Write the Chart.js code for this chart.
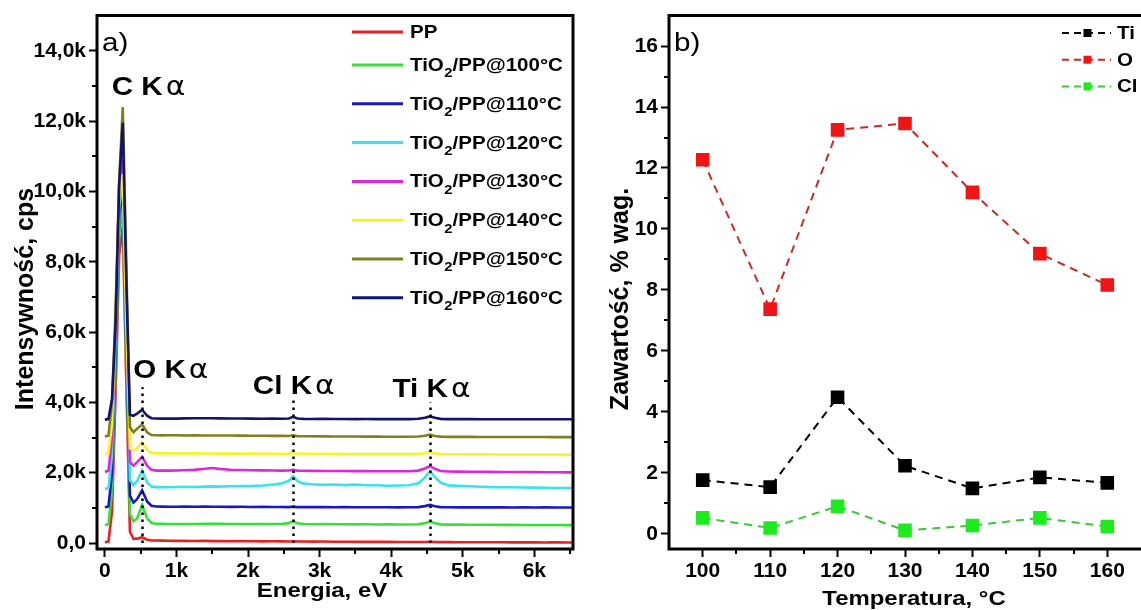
<!DOCTYPE html>
<html>
<head>
<meta charset="utf-8">
<script src="https://cdn.jsdelivr.net/npm/chart.js@4.4.1/dist/chart.umd.min.js"></script>
<style>
  html, body { margin: 0; padding: 0; background: #fff; overflow: hidden; width: 1141px; height: 610px; }
  #panelA { position: absolute; left: 0; top: 0; }
  #panelB { position: absolute; left: 580px; top: 0; }
</style>
</head>
<body>
<canvas id="panelA" width="585" height="610"></canvas>
<canvas id="panelB" width="580" height="610"></canvas>
<script>
// ---------- a) EDS spectra, stacked ----------
const energy = [0, 50, 100, 150, 200, 250, 300, 350, 400, 450,
  520, 590, 650, 720, 800, 900, 1000, 1100, 1250, 1400,
  1500, 1600, 1750, 1900, 2050, 2200, 2350, 2480, 2570, 2630,
  2690, 2780, 2900, 3050, 3200, 3350, 3500, 3650, 3800, 3950,
  4100, 4250, 4380, 4470, 4540, 4610, 4690, 4800, 4950, 5100,
  5250, 5400, 5550, 5700, 5850, 6000, 6150, 6300, 6450, 6540];

const sampleLabels = ['PP', 'TiO₂/PP@100°C', 'TiO₂/PP@110°C', 'TiO₂/PP@120°C',
  'TiO₂/PP@130°C', 'TiO₂/PP@140°C', 'TiO₂/PP@150°C', 'TiO₂/PP@160°C'];

const countsPP = [20, 40, 900, 4300, 8200, 9000, 4500, 320, 120, 125,
  165, 95, 75, 70, 68, 66, 60, 62, 58, 60,
  55, 57, 52, 55, 50, 48, 50, 46, 45, 48,
  44, 42, 40, 42, 38, 36, 38, 34, 32, 33,
  30, 28, 30, 28, 32, 27, 26, 25, 24, 22,
  24, 20, 21, 18, 19, 17, 16, 18, 15, 15];
const counts100 = [510, 530, 1500, 4900, 8800, 9600, 5000, 820, 620, 700,
  1080, 700, 570, 550, 545, 540, 542, 538, 540, 545,
  548, 545, 543, 540, 542, 538, 540, 545, 565, 620,
  560, 540, 535, 538, 533, 535, 530, 532, 528, 530,
  526, 528, 535, 565, 610, 560, 530, 524, 522, 520,
  521, 518, 516, 517, 514, 513, 512, 511, 510, 510];
const counts110 = [1020, 1040, 2000, 5400, 9300, 10100, 5500, 1350, 1150, 1250,
  1500, 1180, 1060, 1040, 1035, 1032, 1030, 1034, 1030, 1036,
  1032, 1030, 1028, 1030, 1026, 1028, 1024, 1025, 1022, 1030,
  1020, 1022, 1020, 1021, 1018, 1020, 1017, 1018, 1016, 1017,
  1015, 1016, 1022, 1050, 1085, 1045, 1020, 1016, 1015, 1014,
  1015, 1013, 1014, 1012, 1013, 1012, 1013, 1012, 1012, 1012];
const counts120 = [1540, 1560, 2500, 5800, 9600, 10300, 5900, 1800, 1650, 1760,
  2060, 1720, 1610, 1590, 1595, 1588, 1592, 1600, 1595, 1605,
  1610, 1603, 1615, 1620, 1618, 1635, 1660, 1700, 1770, 1900,
  1760, 1690, 1670, 1655, 1665, 1648, 1660, 1642, 1645, 1630,
  1635, 1645, 1700, 1860, 2040, 1880, 1720, 1640, 1625, 1615,
  1600, 1590, 1585, 1588, 1578, 1575, 1572, 1566, 1565, 1562];
const counts130 = [2030, 2050, 3000, 6400, 10200, 10900, 6400, 2300, 2200, 2300,
  2450, 2200, 2080, 2060, 2058, 2060, 2062, 2068, 2080, 2110,
  2135, 2110, 2085, 2075, 2070, 2065, 2062, 2060, 2062, 2080,
  2060, 2055, 2052, 2050, 2048, 2050, 2045, 2046, 2042, 2043,
  2040, 2042, 2060, 2120, 2185, 2110, 2050, 2035, 2030, 2028,
  2026, 2024, 2022, 2020, 2018, 2016, 2014, 2012, 2010, 2010];
const counts140 = [2520, 2540, 3400, 6500, 9900, 10500, 6300, 2700, 2620, 2700,
  2860, 2650, 2560, 2550, 2552, 2548, 2550, 2547, 2549, 2545,
  2546, 2543, 2545, 2540, 2542, 2538, 2540, 2537, 2540, 2560,
  2538, 2535, 2536, 2533, 2535, 2531, 2532, 2530, 2531, 2528,
  2529, 2527, 2535, 2555, 2585, 2550, 2528, 2524, 2523, 2522,
  2521, 2520, 2519, 2518, 2518, 2517, 2516, 2516, 2515, 2515];
const counts150 = [3030, 3050, 4000, 6700, 10300, 12400, 7900, 3300, 3150, 3250,
  3370, 3150, 3070, 3065, 3062, 3066, 3063, 3060, 3062, 3058,
  3060, 3056, 3057, 3054, 3052, 3050, 3048, 3046, 3045, 3065,
  3040, 3036, 3035, 3033, 3030, 3031, 3028, 3027, 3026, 3024,
  3023, 3022, 3030, 3050, 3085, 3045, 3025, 3020, 3019, 3018,
  3017, 3016, 3016, 3015, 3015, 3014, 3014, 3013, 3013, 3013];
const counts160 = [3510, 3525, 4100, 6200, 10200, 11950, 7400, 3650, 3620, 3680,
  3790, 3620, 3550, 3540, 3538, 3542, 3537, 3545, 3548, 3550,
  3547, 3545, 3542, 3540, 3538, 3535, 3537, 3533, 3540, 3590,
  3540, 3530, 3528, 3530, 3526, 3527, 3525, 3526, 3524, 3525,
  3523, 3524, 3535, 3565, 3600, 3560, 3530, 3525, 3524, 3523,
  3522, 3521, 3521, 3520, 3520, 3519, 3519, 3518, 3518, 3518];

// Kα lines marked on the spectra (eV)
const peakNames = ['O', 'Cl', 'Ti'];
const peakEnergies = [520, 2630, 4540];

const energyTicks = [0, 1000, 2000, 3000, 4000, 5000, 6000];
const energyTickLabels = ['0', '1k', '2k', '3k', '4k', '5k', '6k'];
const energyMinorTicks = [500, 1500, 2500, 3500, 4500, 5500, 6500];
const intensityTicks = [0, 2000, 4000, 6000, 8000, 10000, 12000, 14000];
const intensityTickLabels = ['0,0', '2,0k', '4,0k', '6,0k', '8,0k', '10,0k', '12,0k', '14,0k'];
const intensityMinorTicks = [1000, 3000, 5000, 7000, 9000, 11000, 13000];

// ---------- b) element content vs. temperature ----------
const temperatures = [100, 110, 120, 130, 140, 150, 160];
const contentTi = [1.76, 1.53, 4.48, 2.23, 1.49, 1.85, 1.67];
const contentO = [12.27, 7.37, 13.25, 13.46, 11.2, 9.19, 8.16];
const contentCl = [0.52, 0.19, 0.9, 0.11, 0.27, 0.52, 0.24];
const elementLabels = ['Ti', 'O', 'Cl'];

const temperatureTicks = [100, 110, 120, 130, 140, 150, 160];
const temperatureMinorTicks = [105, 115, 125, 135, 145, 155];
const contentTicks = [0, 2, 4, 6, 8, 10, 12, 14, 16];
const contentMinorTicks = [1, 3, 5, 7, 9, 11, 13, 15];

// ---------- styling ----------
const FONT = '"Liberation Sans", Arial, Helvetica, sans-serif';
const SX = 1.14;                       // horizontal stretch of the annotation text
const TICK_FONT = { family: FONT, size: 21, weight: 'bold' };
const sampleColors = ['#e82020', '#3ade3a', '#1818c8', '#3ae2ea', '#dc28dc', '#f4f428', '#80801e', '#121270'];

Chart.defaults.font.family = FONT;
Chart.defaults.color = '#000';

function textW(ctx, str, x, y, font, align) {
  ctx.save();
  ctx.font = font;
  const w = ctx.measureText(str).width * SX;
  let x0 = x;
  if (align === 'center') x0 = x - w / 2;
  else if (align === 'right') x0 = x - w;
  ctx.translate(x0, y);
  ctx.scale(SX, 1);
  ctx.textAlign = 'left';
  ctx.textBaseline = 'alphabetic';
  ctx.fillStyle = '#000';
  ctx.fillText(str, 0, 0);
  ctx.restore();
  return w;
}

// label text with chemical subscripts (₂)
function richLabel(ctx, str, x, y, size) {
  const parts = str.split('₂');
  let cx = x;
  parts.forEach((p, k) => {
    if (k > 0) cx += textW(ctx, '2', cx + 0.5, y + size * 0.36, `bold ${Math.round(size * 0.72)}px ${FONT}`) + 0.5;
    cx += textW(ctx, p, cx, y, `bold ${size}px ${FONT}`);
  });
}

function rotatedTitle(ctx, str, cx, cy, size) {
  ctx.save();
  ctx.translate(cx, cy);
  ctx.rotate(-Math.PI / 2);
  ctx.font = `bold ${size}px ${FONT}`;
  ctx.textAlign = 'center';
  ctx.textBaseline = 'middle';
  ctx.fillStyle = '#000';
  ctx.fillText(str, 0, 0);
  ctx.restore();
}

// box frame, minor ticks and axis titles shared by both panels
const framePlugin = {
  id: 'frame',
  afterDatasetsDraw(chart, args, o) {
    const { ctx, chartArea: a, scales } = chart;
    ctx.save();
    ctx.strokeStyle = '#000';
    ctx.lineWidth = 3;
    ctx.lineCap = 'square';
    ctx.beginPath();
    if (o.right) {
      ctx.rect(a.left, a.top, a.right - a.left, a.bottom - a.top);
    } else {
      ctx.moveTo(a.right + 2, a.top); ctx.lineTo(a.left, a.top);
      ctx.lineTo(a.left, a.bottom); ctx.lineTo(a.right + 2, a.bottom);
    }
    ctx.stroke();
    ctx.lineWidth = 2;
    ctx.lineCap = 'butt';
    ctx.beginPath();
    o.xMinor.forEach(v => {
      const px = Math.round(scales.x.getPixelForValue(v));
      ctx.moveTo(px, a.bottom); ctx.lineTo(px, a.bottom + 5);
    });
    o.yMinor.forEach(v => {
      const py = Math.round(scales.y.getPixelForValue(v));
      ctx.moveTo(a.left, py); ctx.lineTo(a.left - 5, py);
    });
    ctx.stroke();
    ctx.restore();
    rotatedTitle(ctx, o.yTitle, o.yTitleX, o.yTitleY, 25);
    textW(ctx, o.xTitle, o.xTitleX, o.xTitleY, `bold 21px ${FONT}`, 'center');
    textW(ctx, o.tag, a.left + 5, a.top + 35, `26px ${FONT}`, 'left');
  }
};

// a) legend and Kα markers
const spectraPlugin = {
  id: 'spectraNotes',
  afterDraw(chart, args, o) {
    const { ctx, scales } = chart;
    const y0 = scales.y.getPixelForValue(0);
    ctx.save();
    ctx.strokeStyle = '#000';
    ctx.lineWidth = 2.5;
    ctx.setLineDash([2.5, 4.5]);
    peakEnergies.forEach((e, i) => {
      const px = Math.round(scales.x.getPixelForValue(e)) + 0.5;
      ctx.beginPath();
      ctx.moveTo(px, y0);
      ctx.lineTo(px, scales.y.getPixelForValue(o.lineTops[i]));
      ctx.stroke();
    });
    ctx.restore();

    o.notes.forEach(n => {
      const x = scales.x.getPixelForValue(n.energy);
      const y = scales.y.getPixelForValue(n.counts);
      const w = textW(ctx, n.name + ' K', x, y, `bold 26px ${FONT}`, 'left');
      textW(ctx, 'α', x + w + 3, y, `26px "DejaVu Sans", ${FONT}`, 'left');
    });

    let y = o.legendTop;
    chart.data.datasets.forEach(ds => {
      ctx.save();
      ctx.strokeStyle = ds.borderColor;
      ctx.lineWidth = 3;
      ctx.beginPath();
      ctx.moveTo(o.legendX0, y); ctx.lineTo(o.legendX1, y);
      ctx.stroke();
      ctx.restore();
      richLabel(ctx, ds.label, o.legendTextX, y + 6, 18);
      y += ds.label.includes('₂') ? o.rowSub : o.row;
    });
  }
};

// b) legend
const contentLegend = {
  id: 'contentLegend',
  afterDraw(chart, args, o) {
    const ctx = chart.ctx;
    chart.data.datasets.forEach((ds, i) => {
      const y = o.top + i * o.row;
      ctx.save();
      ctx.strokeStyle = ds.borderColor;
      ctx.lineWidth = 2;
      ctx.setLineDash([7, 5]);
      ctx.beginPath();
      ctx.moveTo(o.x0, y); ctx.lineTo(o.x1, y);
      ctx.stroke();
      ctx.fillStyle = ds.pointBackgroundColor;
      const mx = (o.x0 + o.x1) / 2 + 1;
      ctx.fillRect(mx - 4, y - 4, 8, 8);
      ctx.restore();
      textW(ctx, ds.label, o.textX, y + 6, `bold 18px ${FONT}`, 'left');
    });
  }
};

function axis(min, max, ticks, labels, fixed, isX) {
  return {
    type: 'linear', min, max,
    afterBuildTicks: s => { s.ticks = ticks.map(v => ({ value: v })); },
    afterFit: s => { if (isX) s.height = fixed; else s.width = fixed; },
    ticks: {
      autoSkip: false, maxRotation: 0, font: TICK_FONT, color: '#000',
      padding: isX ? 2 : 3,
      callback: v => labels[ticks.indexOf(v)]
    },
    grid: { display: true, drawOnChartArea: false, drawTicks: true, tickLength: 8, tickWidth: 2, tickColor: '#000' },
    border: { display: false }
  };
}

const spectraSeries = [countsPP, counts100, counts110, counts120, counts130, counts140, counts150, counts160];

new Chart(document.getElementById('panelA'), {
  type: 'line',
  data: {
    datasets: spectraSeries.map((s, i) => ({
      label: sampleLabels[i],
      data: energy.map((e, k) => ({ x: e, y: s[k] })),
      borderColor: sampleColors[i],
      borderWidth: 2.6,
      pointRadius: 0,
      tension: 0,
      order: spectraSeries.length - i
    }))
  },
  options: {
    responsive: false, animation: false, events: [],
    layout: { padding: { left: 0, top: 14, right: 12, bottom: 0 } },
    scales: {
      x: axis(-110, 6540, energyTicks, energyTickLabels, 61, true),
      y: axis(-170, 15000, intensityTicks, intensityTickLabels, 97, false)
    },
    plugins: {
      legend: { display: false }, tooltip: { enabled: false },
      frame: {
        right: true, xMinor: energyMinorTicks, yMinor: intensityMinorTicks,
        yTitle: 'Intensywność, cps', yTitleX: 26, yTitleY: 299,
        xTitle: 'Energia, eV', xTitleX: 322, xTitleY: 597, tag: 'a)'
      },
      spectraNotes: {
        lineTops: [4430, 4060, 4000],
        notes: [
          { name: 'C', energy: 95, counts: 12750 },
          { name: 'O', energy: 395, counts: 4705 },
          { name: 'Cl', energy: 2067, counts: 4225 },
          { name: 'Ti', energy: 4019, counts: 4160 }
        ],
        legendTop: 32, row: 33, rowSub: 38.8,
        legendX0: 352, legendX1: 403, legendTextX: 410
      }
    }
  },
  plugins: [framePlugin, spectraPlugin]
});

const contentSeries = [contentTi, contentO, contentCl];
const lineColors = ['#000000', '#c82a2a', '#38c838'];
const markerColors = ['#000000', '#f01414', '#1eeb1e'];

new Chart(document.getElementById('panelB'), {
  type: 'line',
  data: {
    datasets: contentSeries.map((s, i) => ({
      label: elementLabels[i],
      data: temperatures.map((t, k) => ({ x: t, y: s[k] })),
      borderColor: lineColors[i],
      borderWidth: 2,
      borderDash: [8, 6],
      pointStyle: 'rect',
      pointRadius: 9.6,
      pointBorderWidth: 0,
      pointBackgroundColor: markerColors[i],
      pointBorderColor: markerColors[i],
      tension: 0
    }))
  },
  options: {
    responsive: false, animation: false, events: [],
    layout: { padding: { left: 0, top: 14, right: 19, bottom: 0 } },
    scales: {
      x: axis(95, 165, temperatureTicks, temperatureTicks.map(String), 61, true),
      y: axis(-0.5, 17, contentTicks, contentTicks.map(String), 89, false)
    },
    plugins: {
      legend: { display: false }, tooltip: { enabled: false },
      frame: {
        right: false, xMinor: temperatureMinorTicks, yMinor: contentMinorTicks,
        yTitle: 'Zawartość, % wag.', yTitleX: 41, yTitleY: 299,
        xTitle: 'Temperatura, °C', xTitleX: 334, xTitleY: 605, tag: 'b)'
      },
      contentLegend: { top: 33, row: 26.7, x0: 482, x1: 531, textX: 537 }
    }
  },
  plugins: [framePlugin, contentLegend]
});
</script>
</body>
</html>
